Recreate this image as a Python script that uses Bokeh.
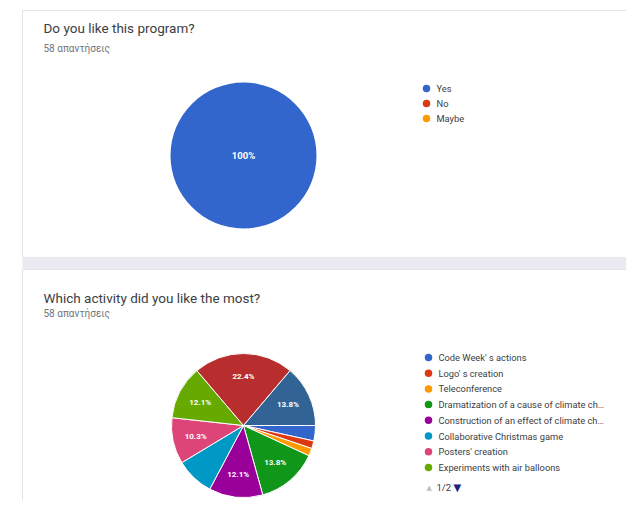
import numpy as np
from bokeh.plotting import figure
from bokeh.models import Range1d, ColumnDataSource
from bokeh.core.properties import value
from bokeh.embed import file_html
from bokeh.resources import INLINE

# ---------------- data ----------------
q1_title = "Do you like this program?"
q1_sub = "58 απαντήσεις"
q1_labels = ["Yes", "No", "Maybe"]
q1_counts = [58, 0, 0]
q1_colors = ["#3366cc", "#dc3912", "#ff9900"]

q2_title = "Which activity did you like the most?"
q2_sub = "58 απαντήσεις"
q2_labels = ["Code Week' s actions", "Logo' s creation", "Teleconference",
             "Dramatization of a cause of climate ch…",
             "Construction of an effect of climate ch…",
             "Collaborative Christmas game", "Posters' creation",
             "Experiments with air balloons", "Other activity 9", "Other activity 10"]
q2_counts = [2, 1, 1, 8, 7, 5, 6, 7, 13, 8]
q2_colors = ["#3366cc", "#dc3912", "#ff9900", "#109618", "#990099",
             "#0099c6", "#dd4477", "#66aa00", "#b82e2e", "#316395"]
q2_legend_shown = 8
pager_text = "1/2"

W, H = 626, 500
FONT = "Roboto"
OX, OY = 0, 0  # screen offset of the figure


def Y(ry):
    return 506 - ry


p = figure(width=W, height=H, x_range=Range1d(OX, OX + W), y_range=Range1d(Y(OY + H), Y(OY)),
           output_backend="svg", toolbar_location=None, min_border=0)
p.axis.visible = False
p.grid.visible = False
p.outline_line_color = None
p.background_fill_color = "white"
p.border_fill_color = "white"

# cards and separator band
p.quad(left=[22], right=[640], top=[Y(10)], bottom=[Y(257)], fill_color="white",
       line_color="#e4e4e8", line_width=1)
p.quad(left=[22], right=[640], top=[Y(257)], bottom=[Y(269)], fill_color="#ebe9f1",
       line_color=None)
p.quad(left=[22], right=[640], top=[Y(269)], bottom=[Y(520)], fill_color="white",
       line_color="#e4e4e8", line_width=1)


def header(title, sub, ty, sy):
    p.text(x=[43], y=[Y(ty)], text=[title], text_font=value(FONT), text_font_size="13.5px",
           text_color="#3c4043", text_baseline="middle")
    p.text(x=[43], y=[Y(sy)], text=[sub], text_font=value(FONT), text_font_size="10px",
           text_color="#70757a", text_baseline="middle")


def pie(counts, colors, cx, cy, r, fs, min_label=0.095):
    total = float(sum(counts))
    fr = np.array(counts, dtype=float) / total
    cum = np.concatenate([[0.0], np.cumsum(fr)])
    # clockwise starting from 3 o'clock
    starts = -cum[1:] * 2 * np.pi
    ends = -cum[:-1] * 2 * np.pi
    keep = fr > 0
    src = ColumnDataSource(dict(s=starts[keep], e=ends[keep], c=np.array(colors)[keep]))
    lw = 1 if keep.sum() > 1 else 0
    p.wedge(x=cx, y=Y(cy), radius=r, start_angle="s", end_angle="e", fill_color="c",
            line_color="white" if lw else None, line_width=lw, source=src)
    lx, ly, lt = [], [], []
    for f, a0, a1 in zip(fr, cum[:-1], cum[1:]):
        if f < min_label:
            continue
        mid = -(a0 + a1) * np.pi
        rr = 0 if f >= 0.999 else 0.68 * r
        lx.append(cx + rr * np.cos(mid))
        ly.append(Y(cy) + rr * np.sin(mid))
        lt.append("100%" if f >= 0.999 else f"{f * 100:.1f}%")
    p.text(x=lx, y=ly, text=lt, text_font=value(FONT), text_font_size=fs,
           text_font_style="bold", text_color="white", text_align="center",
           text_baseline="middle")


def legend(labels, colors, x0, y0, dy):
    ys = [Y(y0 + i * dy) for i in range(len(labels))]
    p.scatter(x=[x0] * len(labels), y=ys, size=7.5, fill_color=colors, line_color=None)
    p.text(x=[x0 + 10] * len(labels), y=ys, text=labels, text_font=value(FONT),
           text_font_size="9.3px", text_color="#3c4043", text_baseline="middle")


# chart 1
header(q1_title, q1_sub, 27, 48)
pie(q1_counts, q1_colors, 243, 155, 73, "9.5px")
legend(q1_labels, q1_colors, 426, 88, 15)

# chart 2
header(q2_title, q2_sub, 297, 313)
pie(q2_counts, q2_colors, 243, 425, 72, "8px")
legend(q2_labels[:q2_legend_shown], q2_colors[:q2_legend_shown], 428, 357, 15.7)
p.text(x=[426], y=[Y(487)], text=["▲"], text_font=value("DejaVu Sans"), text_font_size="7px",
       text_color="#c0c0c0", text_baseline="middle")
p.text(x=[436], y=[Y(487)], text=[pager_text], text_font=value(FONT), text_font_size="9.5px",
       text_color="#3c4043", text_baseline="middle")
p.text(x=[453], y=[Y(487)], text=["▼"], text_font=value("DejaVu Sans"), text_font_size="10px",
       text_color="#1a237e", text_baseline="middle")

open("out.html", "w").write(file_html(p, INLINE))
